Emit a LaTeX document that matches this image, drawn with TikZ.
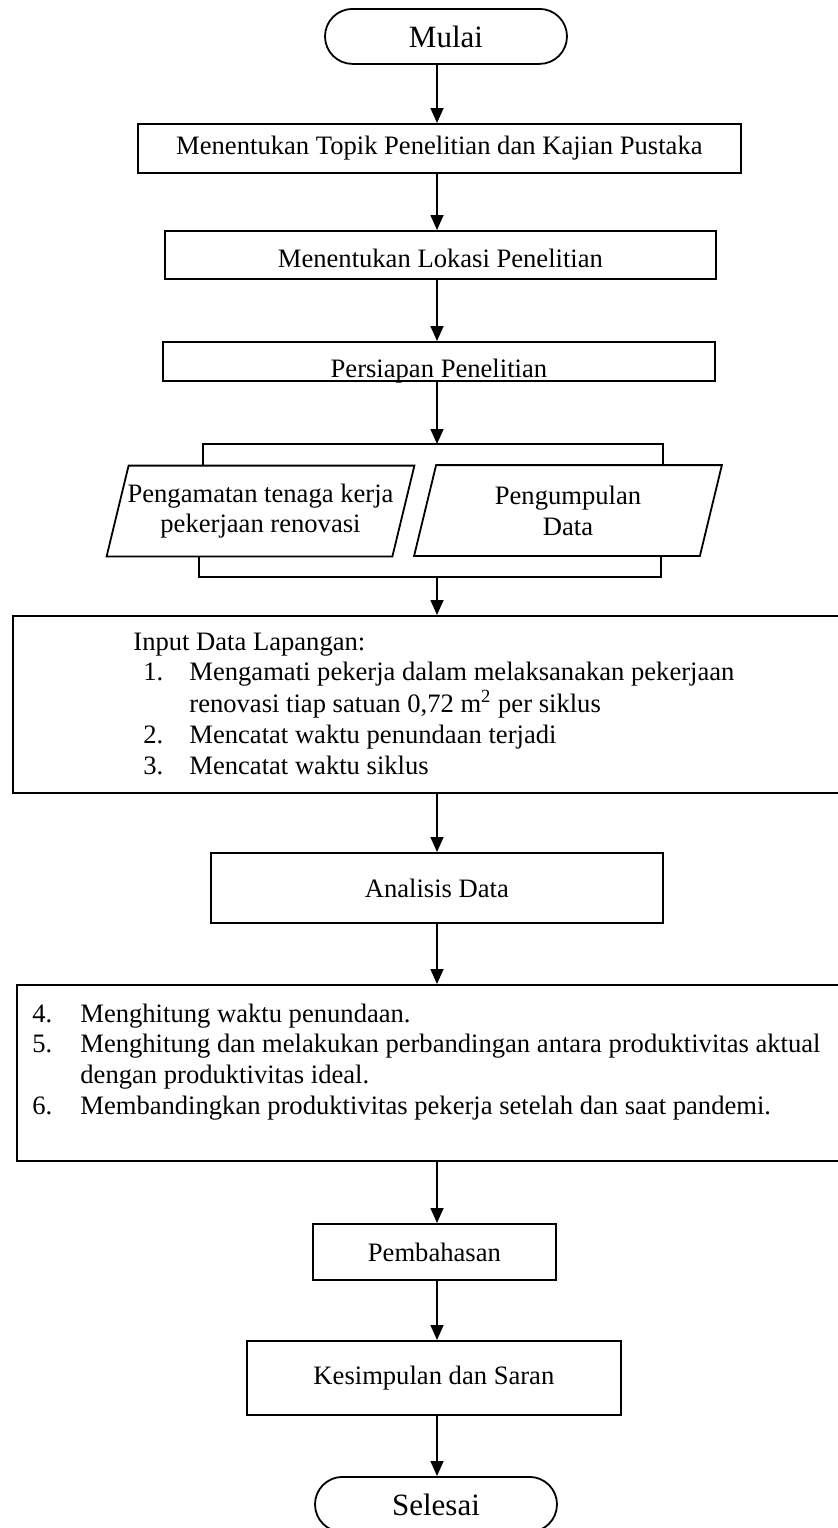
\documentclass[tikz,border=0pt]{standalone}
\usepackage{fontspec}
\setmainfont{Liberation Serif}
\usepackage{tikz}
\tikzset{
  block_font/.style = {font=\fontsize{13.3}{15.4}\selectfont},
  end_font/.style = {font=\fontsize{15.5}{18}\selectfont},
  block_line/.style = {line width=0.9pt}
}
\tikzset{
  terminal/.style = {end_font, draw, block_line, rounded rectangle, minimum width=121pt, minimum height=27.5pt, inner sep=0},
  block/.style = {block_font, draw, block_line, align=center, inner sep=0},
  io/.style = {block_font, align=center, inner sep=0, minimum width=153.5pt, minimum height=45pt},
  listing/.style = {block_font, inner sep=0, anchor=base west},
  arrow/.style = {->, line width=0.8pt},
  bracket/.style = {block_line}
}
\tikzset{
  keep_left/.style={anchor=north west},
  keep_middle/.style={anchor=north},
  box_size/.style 2 args={minimum width=#1, minimum height=#2},
  slant/.store in=\slantwd, slant=11pt
}
\usetikzlibrary{arrows.meta, shapes.misc}

\begin{document}
\begin{tikzpicture}[x=0.5pt, y=-0.5pt, >={Triangle[width=6.5pt,length=7.5pt]}]{
        \useasboundingbox (0,0) rectangle (838,1528);
        \clip (0,0) rectangle (838,1528);

        % Start and end
        \node[terminal, keep_middle] at (446,8) (mulai) {Mulai};
        \node[terminal, keep_middle] at (436,1476) (selesai) {Selesai};

        % Steps
        \node[block, keep_left, box_size={301.5pt}{24.5pt}] at (137,123) (topik) {
            Menentukan Topik Penelitian dan Kajian Pustaka};
        \node[block, keep_left, minimum width=275.5pt, text height=18.5pt, text depth=5.5pt] at (164,230) (lokasi) {
            Menentukan Lokasi Penelitian};
        \node[block, keep_left, minimum width=276pt, text height=18pt, text depth=1.5pt] at (162,341) (persiapan) {
            Persiapan Penelitian};

        % Data collection
        \node[io] at (260.5,511) (pengamatan) {
            Pengamatan tenaga kerja\\ pekerjaan renovasi};
        \node[io] at (568,510.5) (pengumpulan) {
            Pengumpulan\\ Data};

        % Field input
        \node[block, keep_left, box_size={419pt}{88.5pt}] at (12,615) (input) {};
        \node[listing] at (133,650) (input_txt) {%
            \begin{tabular}[t]{@{\hspace{5pt}}p{23pt}@{}l@{}}
                \multicolumn{2}{@{}l@{}}{Input Data Lapangan:}\\
                1. & Mengamati pekerja dalam melaksanakan pekerjaan\\
                   & renovasi tiap satuan 0,72 m\textsuperscript{2} per siklus\\
                2. & Mencatat waktu penundaan terjadi\\
                3. & Mencatat waktu siklus
            \end{tabular}};

        \node[block, keep_left, box_size={226pt}{35pt}] at (210,852) (analisis) {
            Analisis Data};

        % Calculations
        \node[block, keep_left, box_size={417pt}{88pt}] at (16,984) (hitung) {};
        \node[listing] at (32,1022) (hitung_txt) {%
            \begin{tabular}[t]{@{}p{24pt}@{}l@{}}
                4. & Menghitung waktu penundaan.\\
                5. & Menghitung dan melakukan perbandingan antara produktivitas aktual\\
                   & dengan produktivitas ideal.\\
                6. & Membandingkan produktivitas pekerja setelah dan saat pandemi.
            \end{tabular}};

        \node[block, keep_left, box_size={121.5pt}{28pt}] at (312,1223) (pembahasan) {
            Pembahasan};
        \node[block, keep_left, box_size={187pt}{37pt}] at (246,1340) (kesimpulan) {
            Kesimpulan dan Saran};

        % Forks
        \coordinate (spine) at (437,0);
        \coordinate (fork_l) at (203,444);
        \coordinate (fork_r) at (663,444);
        \coordinate (join_l) at (199,577);
        \coordinate (join_r) at (661,577);

        % Parallelograms
        \foreach \io in {pengamatan, pengumpulan}{
            \draw[block_line] (\io.south west)--([xshift=\slantwd]\io.north west)
                --(\io.north east)--([xshift=-\slantwd]\io.south east)--cycle;
        }

        % Arrows and lines
        \draw[arrow] (mulai.south -| spine)--(topik.north -| spine);
        \draw[arrow] (topik.south -| spine)--(lokasi.north -| spine);
        \draw[arrow] (lokasi.south -| spine)--(persiapan.north -| spine);
        \draw[arrow] (persiapan.south -| spine)--(fork_l -| spine);

        \draw[bracket] (pengamatan.north -| fork_l)--(fork_l)--(fork_r)--(pengumpulan.north -| fork_r);
        \draw[bracket] (pengamatan.south -| join_l)--(join_l)--(join_r)--(pengumpulan.south -| join_r);

        \draw[arrow] (join_l -| spine)--(input.north -| spine);
        \draw[arrow] (input.south -| spine)--(analisis.north -| spine);
        \draw[arrow] (analisis.south -| spine)--(hitung.north -| spine);
        \draw[arrow] (hitung.south -| spine)--(pembahasan.north -| spine);
        \draw[arrow] (pembahasan.south -| spine)--(kesimpulan.north -| spine);
        \draw[arrow] (kesimpulan.south -| spine)--(selesai.north -| spine);
        }
\end{tikzpicture}
\end{document}
